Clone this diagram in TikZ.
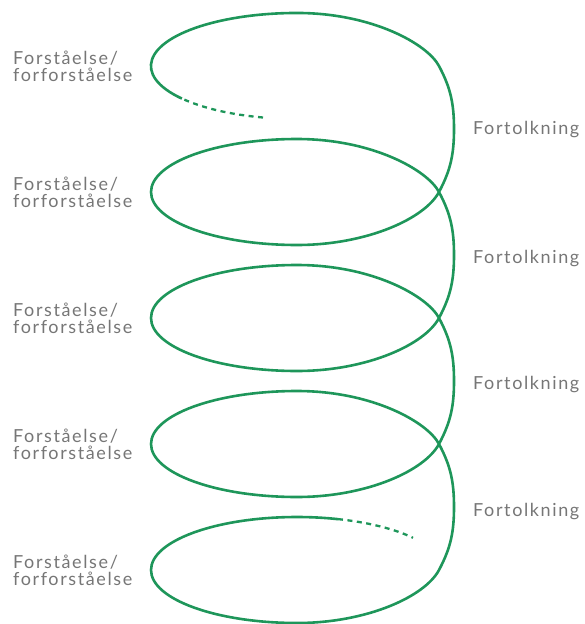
\documentclass[tikz,border=0pt]{standalone}
\usepackage{fontspec}
\setmainfont{Lato}[LetterSpace=9]
\definecolor{spiral}{RGB}{30,150,90}
\definecolor{labelgray}{RGB}{118,118,118}
\tikzset{
  helix/.style={draw=spiral, line width=2.6pt},
  fadeend/.style={helix, line width=2.3pt, dash pattern=on 5pt off 4.5pt},
  sidelabel/.style={font=\fontsize{18}{17}\selectfont, text=labelgray,
                    align=left, inner sep=0pt, anchor=west},
}

\begin{document}
\begin{tikzpicture}[x=1pt, y=1pt]
    \useasboundingbox (0,0) rectangle (585,-624);
    % crossings, bottoms and bulges of the five turns
    \foreach \n [evaluate=\n as \cy using -66-126*(\n-1)] in {1,...,5} {
      \coordinate (p\n) at (439,\cy);
      \coordinate (b\n) at (297,\cy-53);
      \coordinate (r\n) at (454,\cy-63);
    }
    \coordinate (ds) at (263,-117.5);
    \coordinate (de) at (181.9,-98.6);
    \coordinate (es) at (338,-519.1);
    \draw[fadeend] (ds) arc[start angle=256.5, end angle=218, x radius=146, y radius=53];
    \draw[helix] (de) arc[start angle=218, end angle=90, x radius=146, y radius=53]
      \foreach \n [count=\m from 2] in {1,...,4} {
        .. controls +(75,0) and +(118:25) .. (p\n)
        .. controls +(-62:25) and +(0,25) .. (r\n)
        .. controls +(0,-25) and +(62:25) .. (p\m)
        .. controls +(242:30) and +(70,0) .. (b\m)
        arc[start angle=270, end angle=90, x radius=146, y radius=53]
      }
      arc[start angle=90, end angle=73.7, x radius=146, y radius=53];
    \draw[fadeend] (es) arc[start angle=73.7, end angle=37.4, x radius=146, y radius=53];
    % labels
    \node[sidelabel] (f1) at (13,-66) {Forståelse/\\forforståelse};
    \node[sidelabel] (f2) at (13,-192) {Forståelse/\\forforståelse};
    \node[sidelabel] (f3) at (13,-318) {Forståelse/\\forforståelse};
    \node[sidelabel] (f4) at (13,-444) {Forståelse/\\forforståelse};
    \node[sidelabel] (f5) at (13,-570) {Forståelse/\\forforståelse};
    \node[sidelabel] (t1) at (473,-130) {Fortolkning};
    \node[sidelabel] (t2) at (473,-259) {Fortolkning};
    \node[sidelabel] (t3) at (473,-385) {Fortolkning};
    \node[sidelabel] (t4) at (473,-512) {Fortolkning};
\end{tikzpicture}
\end{document}
